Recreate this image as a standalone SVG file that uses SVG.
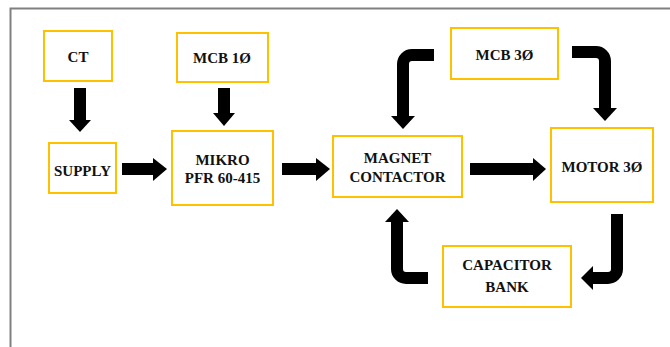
<svg xmlns="http://www.w3.org/2000/svg" width="670" height="347" viewBox="0 0 670 347">
<style>
.box{fill:#fff;stroke:#FFC000;stroke-width:2}
.t{font-family:"Liberation Serif","Times New Roman",serif;font-weight:bold;font-size:15px;fill:#111;text-anchor:middle}
.sh{fill:none;stroke:#000;stroke-width:12}
.hd{fill:#000}
</style>
<rect width="670" height="347" fill="#fff"/>
<path d="M10.5,347 V8.5 H670" fill="none" stroke="#808080" stroke-width="2"/>
<g id="connectors">
<path class="sh" d="M80,88 V121"/><polygon class="hd" points="69,120 91,120 80,132"/>
<path class="sh" d="M224,88 V114"/><polygon class="hd" points="213,113 235,113 224,126"/>
<path class="sh" d="M122,169 H154"/><polygon class="hd" points="153,158 153,181 167,169"/>
<path class="sh" d="M282,169 H317"/><polygon class="hd" points="316,158 316,181 330,169"/>
<path class="sh" d="M470,169 H534"/><polygon class="hd" points="533,158 533,181 546,169"/>
<path class="sh" d="M434,55 H412 A9,9 0 0 0 403,64 V117"/><polygon class="hd" points="391,116 415,116 403,129"/>
<path class="sh" d="M572,52 H596 A9,9 0 0 1 605,61 V109"/><polygon class="hd" points="593,108 617,108 605,121"/>
<path class="sh" d="M617,214 V269 A9,9 0 0 1 608,278 H592"/><polygon class="hd" points="593,266 593,290 581,278"/>
<path class="sh" d="M428,278 H406 A9,9 0 0 1 397,269 V221"/><polygon class="hd" points="385,222 409,222 397,209"/>
</g>
<g id="ct"><rect class="box" x="44" y="31" width="68" height="50"/><text class="t" x="78" y="62">CT</text></g>
<g id="mcb1"><rect class="box" x="177" y="33" width="91" height="49"/><text class="t" x="222" y="63">MCB 1Ø</text></g>
<g id="supply"><rect class="box" x="49" y="143" width="67" height="50"/><text class="t" x="82.5" y="176">SUPPLY</text></g>
<g id="mikro"><rect class="box" x="172" y="131" width="101" height="74"/><text class="t" x="222.5" y="165">MIKRO</text><text class="t" x="222.5" y="183">PFR 60-415</text></g>
<g id="magnet"><rect class="box" x="333" y="136" width="129" height="61"/><text class="t" x="397.5" y="163">MAGNET</text><text class="t" x="397.5" y="182">CONTACTOR</text></g>
<g id="mcb3"><rect class="box" x="451" y="28" width="107" height="51"/><text class="t" x="504.5" y="60">MCB 3Ø</text></g>
<g id="motor"><rect class="box" x="551" y="128" width="102" height="74"/><text class="t" x="602" y="172">MOTOR 3Ø</text></g>
<g id="capacitor"><rect class="box" x="443" y="246" width="128" height="61"/><text class="t" x="507" y="270">CAPACITOR</text><text class="t" x="507" y="292">BANK</text></g>
</svg>
